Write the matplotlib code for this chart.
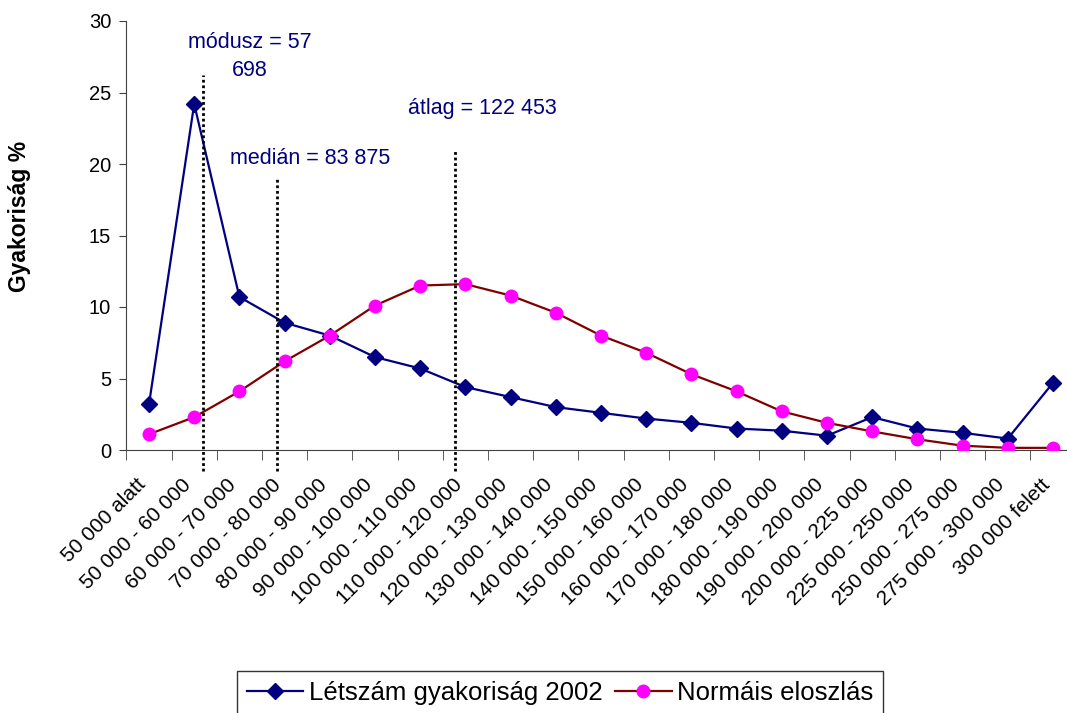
import matplotlib
matplotlib.use("Agg")
import matplotlib.pyplot as plt
import matplotlib.transforms as mtransforms
from matplotlib.ticker import FixedLocator, NullFormatter

plt.rcParams['font.family'] = ['Liberation Sans', 'DejaVu Sans']

categories = ["50 000 alatt", "50 000 - 60 000", "60 000 - 70 000", "70 000 - 80 000",
              "80 000 - 90 000", "90 000 - 100 000", "100 000 - 110 000", "110 000 - 120 000",
              "120 000 - 130 000", "130 000 - 140 000", "140 000 - 150 000", "150 000 - 160 000",
              "160 000 - 170 000", "170 000 - 180 000", "180 000 - 190 000", "190 000 - 200 000",
              "200 000 - 225 000", "225 000 - 250 000", "250 000 - 275 000", "275 000 - 300 000",
              "300 000 felett"]
letszam = [3.2, 24.2, 10.7, 8.9, 8.0, 6.5, 5.7, 4.4, 3.7, 3.0, 2.6, 2.2, 1.9, 1.5, 1.35,
           1.0, 2.3, 1.5, 1.2, 0.8, 4.7]
normalis = [1.1, 2.3, 4.1, 6.2, 8.0, 10.1, 11.5, 11.6, 10.8, 9.6, 8.0, 6.8, 5.3, 4.1, 2.7,
            1.9, 1.3, 0.75, 0.3, 0.15, 0.15]

# reference lines: (x position in category units, top y)
ref_lines = [(1.19, 26.2), (2.83, 19.0), (6.77, 21.0)]
ref_labels = [("módusz = 57", 2.24, 28.5), ("698", 2.24, 26.55),
              ("medián = 83 875", 3.57, 20.4), ("átlag = 122 453", 7.38, 23.9)]

fig = plt.figure(figsize=(10.67, 7.13), dpi=100)
ax = fig.add_axes([126.4 / 1067, 1 - 450 / 713, (1075.6 - 126.4) / 1067, (450 - 21) / 713])

x = list(range(len(categories)))
ax.plot(x, letszam, color='#000080', lw=1.6, marker='D', markersize=8,
        markerfacecolor='#000080', markeredgecolor='#000080', label='Létszám gyakoriság 2002',
        zorder=3)
ax.plot(x, normalis, color='#800000', lw=1.6, marker='o', markersize=9,
        markerfacecolor='#FF00FF', markeredgecolor='#FF00FF', label='Normáis eloszlás',
        zorder=3)

for xv, top in ref_lines:
    ax.plot([xv, xv], [-1.5, top], color='black', linestyle=(0, (1, 1)), lw=2,
            clip_on=False, zorder=4)

for txt, tx, ty in ref_labels:
    ax.text(tx, ty, txt, color='#000080', fontsize=15.5, ha='center', va='center')

ax.set_xlim(-0.5, len(categories) - 0.5)
ax.set_ylim(0, 30)
ax.set_yticks([0, 5, 10, 15, 20, 25, 30])
ax.tick_params(axis='y', labelsize=14.5, length=5, color='#404040', pad=6)

ax.set_xticks(x)
ax.set_xticklabels(categories, rotation=45, ha='right', va='center',
                   rotation_mode='anchor', fontsize=15)
ax.tick_params(axis='x', which='major', length=0, pad=23)
offset = mtransforms.ScaledTranslation(-6 / 100, 0, fig.dpi_scale_trans)
for lab in ax.get_xticklabels():
    lab.set_transform(lab.get_transform() + offset)
ax.xaxis.set_minor_locator(FixedLocator([i + 0.5 for i in range(-1, len(categories))]))
ax.xaxis.set_minor_formatter(NullFormatter())
ax.tick_params(axis='x', which='minor', length=7, color='#404040')

for s in ['top', 'right']:
    ax.spines[s].set_visible(False)
for s in ['left', 'bottom']:
    ax.spines[s].set_color('#404040')

ax.set_ylabel('Gyakoriság %', fontsize=16.5, fontweight='bold')
ax.yaxis.set_label_coords((31 - 126.4) / 949.2, 0.545)

leg = fig.legend(loc='upper center', bbox_to_anchor=(560 / 1067, 1 - 671 / 713),
                 bbox_transform=fig.transFigure, ncol=2, frameon=True, fancybox=False,
                 edgecolor='black', fontsize=18.5, borderaxespad=0, handlelength=2.2,
                 handletextpad=0.2, columnspacing=0.5, borderpad=0.4)
leg.get_frame().set_linewidth(1)

fig.savefig('out.png', dpi=100)
